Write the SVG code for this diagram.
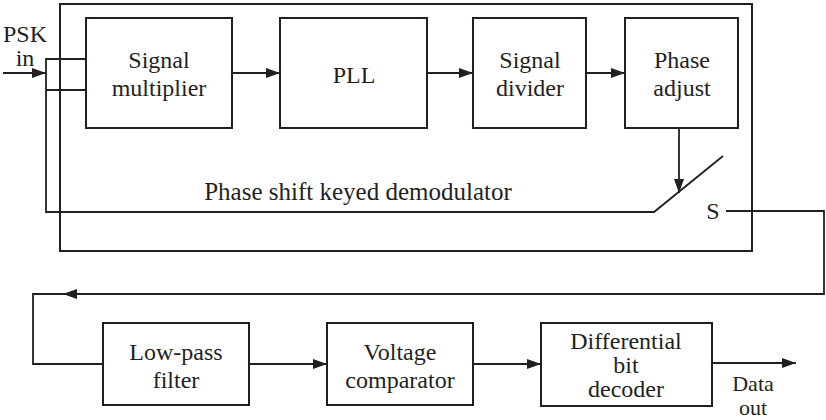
<svg xmlns="http://www.w3.org/2000/svg" width="826" height="420" viewBox="0 0 826 420">
<defs>
<marker id="ah" markerWidth="14" markerHeight="10" refX="14" refY="5" orient="auto" markerUnits="userSpaceOnUse">
<path d="M0,0 L14,5 L0,10 Z" fill="#231f20"/>
</marker>
<style>
.box{fill:#fff;stroke:#231f20;stroke-width:2}
.frame{fill:none;stroke:#231f20;stroke-width:2}
.ln{fill:none;stroke:#231f20;stroke-width:1.8}
.t{font-family:'Liberation Serif','DejaVu Serif',serif;font-size:24px;fill:#231f20;text-anchor:middle}
.title{font-size:25px}
.small{font-size:22px}
</style>
</defs>
<rect width="826" height="420" fill="#fff"/>
<g id="demodulator">
<rect class="frame" x="60" y="4" width="692" height="247"/>
<text class="t title" x="358" y="200">Phase shift keyed demodulator</text>
</g>
<g id="connectors">
<line class="ln" x1="3" y1="73" x2="46" y2="73" marker-end="url(#ah)"/>
<polyline class="ln" points="86,59 46,59 46,212 654,212 723,156"/>
<line class="ln" x1="46" y1="90" x2="86" y2="90"/>
<line class="ln" x1="232" y1="73" x2="280" y2="73" marker-end="url(#ah)"/>
<line class="ln" x1="427" y1="73" x2="473" y2="73" marker-end="url(#ah)"/>
<line class="ln" x1="586" y1="73" x2="625" y2="73" marker-end="url(#ah)"/>
<line class="ln" x1="679" y1="128" x2="679" y2="193" marker-end="url(#ah)"/>
<polyline class="ln" points="726,211 824,211 824,294 33,294 33,364 103,364"/>
<line class="ln" x1="200" y1="294" x2="63" y2="294" marker-end="url(#ah)"/>
<line class="ln" x1="249" y1="364" x2="327" y2="364" marker-end="url(#ah)"/>
<line class="ln" x1="473" y1="364" x2="541" y2="364" marker-end="url(#ah)"/>
<line class="ln" x1="712" y1="363" x2="796" y2="363" marker-end="url(#ah)"/>
</g>
<g id="psk-in">
<text class="t" x="25" y="42">PSK</text>
<text class="t" x="25" y="66">in</text>
</g>
<g id="signal-multiplier">
<rect class="box" x="86" y="18" width="146" height="110"/>
<text class="t" x="159" y="68">Signal</text>
<text class="t" x="159" y="96">multiplier</text>
</g>
<g id="pll">
<rect class="box" x="280" y="18" width="147" height="110"/>
<text class="t" x="354" y="83">PLL</text>
</g>
<g id="signal-divider">
<rect class="box" x="473" y="18" width="113" height="110"/>
<text class="t" x="530" y="68">Signal</text>
<text class="t" x="530" y="96">divider</text>
</g>
<g id="phase-adjust">
<rect class="box" x="625" y="18" width="113" height="110"/>
<text class="t" x="682" y="68">Phase</text>
<text class="t" x="682" y="96">adjust</text>
</g>
<g id="switch">
<text class="t" x="713" y="219">S</text>
</g>
<g id="low-pass-filter">
<rect class="box" x="103" y="323" width="146" height="82"/>
<text class="t" x="176" y="360">Low-pass</text>
<text class="t" x="176" y="388">filter</text>
</g>
<g id="voltage-comparator">
<rect class="box" x="327" y="323" width="146" height="82"/>
<text class="t" x="400" y="360">Voltage</text>
<text class="t" x="400" y="388">comparator</text>
</g>
<g id="differential-bit-decoder">
<rect class="box" x="541" y="323" width="171" height="83"/>
<text class="t" x="626" y="349">Differential</text>
<text class="t" x="626" y="373">bit</text>
<text class="t" x="626" y="397">decoder</text>
</g>
<g id="data-out">
<text class="t small" x="753" y="391">Data</text>
<text class="t small" x="753" y="415">out</text>
</g>
</svg>
